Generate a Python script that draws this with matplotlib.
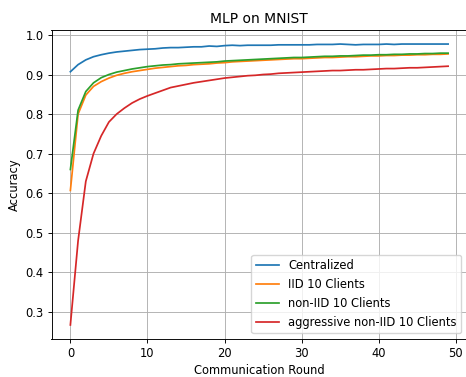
import matplotlib
matplotlib.use("Agg")
import matplotlib.pyplot as plt

rounds = list(range(50))

centralized = [0.907, 0.925, 0.937, 0.945, 0.950, 0.954, 0.957, 0.959, 0.961, 0.963,
               0.964, 0.965, 0.967, 0.968, 0.968, 0.969, 0.970, 0.970, 0.972, 0.971,
               0.973, 0.974, 0.973, 0.974, 0.974, 0.974, 0.974, 0.975, 0.975, 0.975,
               0.975, 0.975, 0.976, 0.976, 0.976, 0.977, 0.976, 0.975, 0.976, 0.976,
               0.976, 0.977, 0.976, 0.977, 0.977, 0.977, 0.977, 0.977, 0.977, 0.977]

iid = [0.607, 0.800, 0.848, 0.870, 0.882, 0.891, 0.898, 0.903, 0.907, 0.910,
       0.913, 0.916, 0.918, 0.920, 0.922, 0.923, 0.925, 0.926, 0.927, 0.929,
       0.930, 0.932, 0.933, 0.934, 0.935, 0.936, 0.937, 0.938, 0.939, 0.940,
       0.940, 0.941, 0.942, 0.943, 0.943, 0.944, 0.945, 0.945, 0.946, 0.947,
       0.947, 0.948, 0.948, 0.949, 0.949, 0.950, 0.950, 0.951, 0.951, 0.952]

noniid = [0.660, 0.810, 0.857, 0.879, 0.892, 0.900, 0.906, 0.910, 0.914, 0.917,
          0.920, 0.922, 0.924, 0.925, 0.927, 0.928, 0.929, 0.930, 0.931, 0.932,
          0.934, 0.935, 0.936, 0.937, 0.938, 0.939, 0.940, 0.941, 0.942, 0.943,
          0.943, 0.944, 0.945, 0.946, 0.946, 0.947, 0.947, 0.948, 0.949, 0.949,
          0.950, 0.950, 0.951, 0.951, 0.952, 0.952, 0.953, 0.953, 0.954, 0.954]

aggressive = [0.267, 0.480, 0.630, 0.700, 0.745, 0.780, 0.800, 0.815, 0.828, 0.838,
              0.846, 0.853, 0.860, 0.867, 0.871, 0.875, 0.879, 0.882, 0.885, 0.888,
              0.891, 0.893, 0.895, 0.897, 0.898, 0.900, 0.901, 0.903, 0.904, 0.905,
              0.906, 0.907, 0.908, 0.909, 0.910, 0.910, 0.911, 0.912, 0.912, 0.913,
              0.914, 0.915, 0.915, 0.916, 0.917, 0.917, 0.918, 0.919, 0.920, 0.921]

labels = ["Centralized", "IID 10 Clients", "non-IID 10 Clients", "aggressive non-IID 10 Clients"]

s = 0.83
plt.rcParams.update({
    "font.size": 8.3,
    "axes.titlesize": 10,
    "legend.fontsize": 8.3,
    "lines.linewidth": 1.5 * s,
    "axes.linewidth": 0.8 * s,
    "grid.linewidth": 0.8 * s,
    "xtick.major.size": 3.5 * s,
    "ytick.major.size": 3.5 * s,
    "xtick.major.width": 0.8 * s,
    "ytick.major.width": 0.8 * s,
    "xtick.major.pad": 3.5 * s,
    "ytick.major.pad": 3.5 * s,
    "axes.labelpad": 4 * s,
    "axes.titlepad": 6 * s,
})

fig, ax = plt.subplots(figsize=(4.66, 3.77), dpi=100)
for series, lab in zip([centralized, iid, noniid, aggressive], labels):
    ax.plot(rounds, series, label=lab)
ax.set_title("MLP on MNIST")
ax.set_xlabel("Communication Round", labelpad=2.5)
ax.set_ylabel("Accuracy")
ax.grid(True)
ax.legend(loc="lower right")
fig.subplots_adjust(left=51.5 / 466, right=467 / 466, top=1 - 30 / 377, bottom=1 - 339 / 377)
fig.savefig("out.png", dpi=100)
